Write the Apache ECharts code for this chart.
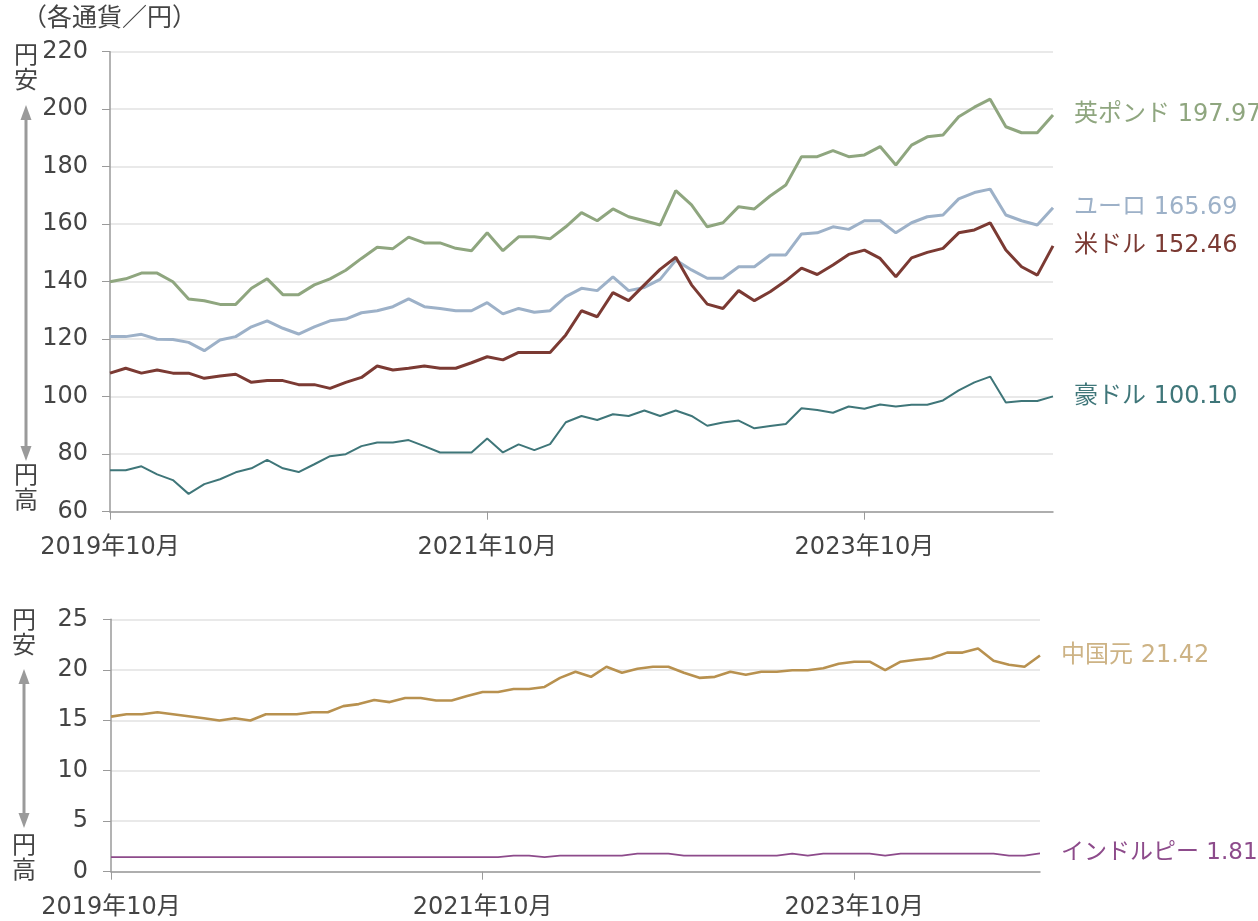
<!DOCTYPE html>
<html>
<head>
<meta charset="utf-8">
<script src="https://cdn.jsdelivr.net/npm/echarts@6/dist/echarts.min.js"></script>
<style>
html,body{margin:0;padding:0;background:#fff;}
#chart{width:1258px;height:921px;}
</style>
</head>
<body>
<div id="chart"></div>
<script>
// ---- data ----
var startYear = 2019, startMonth = 10, monthCount = 61;
var months = [];
for (var i = 0; i < monthCount; i++) {
  var m = startMonth - 1 + i;
  months.push((startYear + Math.floor(m / 12)) + '年' + ((m % 12) + 1) + '月');
}
var xTickEvery = 24;

var gbp = [140.0,141.0,143.0,143.0,140.0,134.0,133.4,132.1,132.1,137.7,
           141.0,135.5,135.5,138.9,141.0,144.0,148.1,152.0,151.5,155.5,
           153.5,153.5,151.6,150.8,157.0,150.8,155.6,155.6,154.9,159.1,
           164.0,161.2,165.3,162.6,161.2,159.7,171.7,166.7,159.1,160.5,
           166.1,165.3,169.8,173.6,183.5,183.5,185.6,183.5,184.1,187.0,
           180.6,187.5,190.4,191.0,197.4,200.7,203.5,193.9,191.8,191.8,
           197.97];
var eur = [120.9,120.9,121.7,120.0,119.9,118.9,116.0,119.7,120.9,124.3,
           126.4,123.8,121.8,124.3,126.4,127.0,129.2,129.9,131.3,134.0,
           131.3,130.7,129.9,129.9,132.7,128.8,130.7,129.4,129.9,134.8,
           137.7,136.9,141.7,136.9,138.0,140.8,147.5,144.1,141.2,141.2,
           145.2,145.2,149.3,149.3,156.6,157.0,159.1,158.2,161.2,161.2,
           157.0,160.5,162.6,163.2,168.8,171.0,172.2,163.2,161.2,159.7,
           165.69];
var usd = [108.2,109.9,108.2,109.3,108.2,108.2,106.4,107.2,107.8,105.0,
           105.6,105.6,104.2,104.2,102.9,105.0,106.7,110.7,109.3,109.9,
           110.7,109.9,109.9,111.8,113.9,112.8,115.4,115.4,115.4,121.5,
           129.9,127.8,136.2,133.4,138.9,144.3,148.5,138.9,132.2,130.7,
           136.9,133.4,136.5,140.3,144.7,142.5,145.8,149.5,151.0,148.1,
           141.7,148.3,150.2,151.6,157.0,158.0,160.5,151.0,145.2,142.3,
           152.46];
var aud = [74.4,74.4,75.8,73.0,71.0,66.2,69.6,71.3,73.7,75.1,
           78.0,75.1,73.8,76.5,79.3,80.0,82.8,84.1,84.1,84.9,
           82.8,80.6,80.6,80.6,85.5,80.6,83.4,81.4,83.5,91.1,
           93.3,91.9,93.9,93.3,95.2,93.3,95.2,93.3,89.9,91.0,
           91.7,89.0,89.8,90.5,96.0,95.4,94.4,96.6,95.8,97.3,
           96.6,97.2,97.2,98.7,102.2,105.0,107.0,98.0,98.5,98.5,
           100.10];
var cny = [15.36,15.6,15.6,15.8,15.6,15.4,15.2,14.97,15.2,14.97,
           15.6,15.6,15.6,15.8,15.8,16.4,16.6,17.0,16.8,17.2,
           17.2,16.95,16.95,17.4,17.8,17.8,18.1,18.1,18.3,19.2,
           19.8,19.3,20.3,19.7,20.1,20.3,20.3,19.7,19.2,19.3,
           19.8,19.5,19.8,19.8,19.96,19.96,20.15,20.6,20.8,20.8,
           19.96,20.8,21.0,21.15,21.7,21.7,22.1,20.9,20.5,20.3,
           21.42];
var inr = [1.45,1.45,1.45,1.45,1.45,1.45,1.45,1.45,1.45,1.45,
           1.45,1.45,1.45,1.45,1.45,1.45,1.45,1.45,1.45,1.45,
           1.45,1.45,1.45,1.45,1.45,1.45,1.6,1.6,1.45,1.6,
           1.6,1.6,1.6,1.6,1.8,1.8,1.8,1.6,1.6,1.6,
           1.6,1.6,1.6,1.6,1.8,1.6,1.8,1.8,1.8,1.8,
           1.6,1.8,1.8,1.8,1.8,1.8,1.8,1.8,1.6,1.6,
           1.81];

var topTicks = {min: 60, max: 220, interval: 20};
var bottomTicks = {min: 0, max: 25, interval: 5};

var seriesInfo = [
  {name: '英ポンド', data: gbp, color: '#8fa67f', label: '#8fa67f', width: 3, axis: 0, fs: 24},
  {name: 'ユーロ', data: eur, color: '#9db1c8', label: '#9db1c8', width: 3, axis: 0, fs: 24},
  {name: '米ドル', data: usd, color: '#7b3a33', label: '#7b3a33', width: 3, axis: 0, fs: 24},
  {name: '豪ドル', data: aud, color: '#3f7679', label: '#3f7679', width: 2, axis: 0, fs: 24},
  {name: '中国元', data: cny, color: '#b8914f', label: '#cdb385', width: 2.6, axis: 1, fs: 24},
  {name: 'インドルピー', data: inr, color: '#8d4b8b', label: '#8d4b8b', width: 1.8, axis: 1, fs: 23}
];

// ---- chart ----
var FONT = "'DejaVu Sans', 'Noto Sans CJK JP', sans-serif";
var TXT = '#444';
var chart = echarts.init(document.getElementById('chart'), null, {renderer: 'canvas'});

function xAxisDef(gi) {
  return {
    type: 'category', gridIndex: gi, data: months, boundaryGap: false,
    axisLine: {lineStyle: {color: '#9a9a9a', width: 1.5}},
    axisTick: {show: true, length: 8, lineStyle: {color: '#9a9a9a'},
               interval: function (idx) { return idx % xTickEvery === 0; }},
    axisLabel: {interval: function (idx) { return idx % xTickEvery === 0; },
                fontSize: 24, color: TXT, fontFamily: FONT, margin: 24},
    splitLine: {show: false}
  };
}
function yAxisDef(gi, t, margin) {
  return {
    type: 'value', gridIndex: gi, min: t.min, max: t.max, interval: t.interval,
    axisLine: {show: true, lineStyle: {color: '#9a9a9a', width: 1.5}},
    axisTick: {show: true, length: 8, lineStyle: {color: '#9a9a9a'}},
    axisLabel: {fontSize: 24, color: TXT, fontFamily: FONT, margin: margin},
    splitLine: {lineStyle: {color: '#e2e2e2', width: 1.5}}
  };
}

var series = seriesInfo.map(function (s) {
  return {
    name: s.name, type: 'line', data: s.data,
    xAxisIndex: s.axis, yAxisIndex: s.axis,
    showSymbol: false, symbol: 'none', animation: false,
    lineStyle: {color: s.color, width: s.width},
    itemStyle: {color: s.color},
    endLabel: {
      show: true, distance: 21, fontSize: s.fs, fontFamily: FONT, color: s.label,
      formatter: function (p) { return p.seriesName + ' ' + Number(p.value).toFixed(2); }
    }
  };
});

function arrow(x, yTop, yBot) {
  var hw = 5.5, hh = 15, col = '#9a9a9a';
  return [
    {type: 'line', shape: {x1: x, y1: yTop + hh - 2, x2: x, y2: yBot - hh + 2},
     style: {stroke: col, lineWidth: 3}},
    {type: 'polygon', shape: {points: [[x - hw, yTop + hh], [x + hw, yTop + hh], [x, yTop]]},
     style: {fill: col}},
    {type: 'polygon', shape: {points: [[x - hw, yBot - hh], [x + hw, yBot - hh], [x, yBot]]},
     style: {fill: col}}
  ];
}
function vtext(x, y, str) {
  return {type: 'text', x: x, y: y,
          style: {text: str, fontSize: 24, fontFamily: FONT, fill: TXT,
                  align: 'center', verticalAlign: 'top', lineHeight: 24.5}};
}

var graphics = [
  {type: 'text', x: 22, y: 7,
   style: {text: '（各通貨／円）', fontSize: 25, fontFamily: FONT, fill: TXT}},
  vtext(26, 45, '円\n安'),
  vtext(26, 465, '円\n高'),
  vtext(24, 610, '円\n安'),
  vtext(24, 835, '円\n高')
].concat(arrow(26, 105, 461)).concat(arrow(24, 669, 828));

chart.setOption({
  animation: false,
  backgroundColor: '#fff',
  grid: [
    {left: 110, right: 205, top: 51.7, height: 460, containLabel: false},
    {left: 111, right: 218, top: 619.3, height: 252.4, containLabel: false}
  ],
  xAxis: [xAxisDef(0), xAxisDef(1)],
  yAxis: [yAxisDef(0, topTicks, 22), yAxisDef(1, bottomTicks, 23)],
  series: series,
  graphic: graphics
});
</script>
</body>
</html>
